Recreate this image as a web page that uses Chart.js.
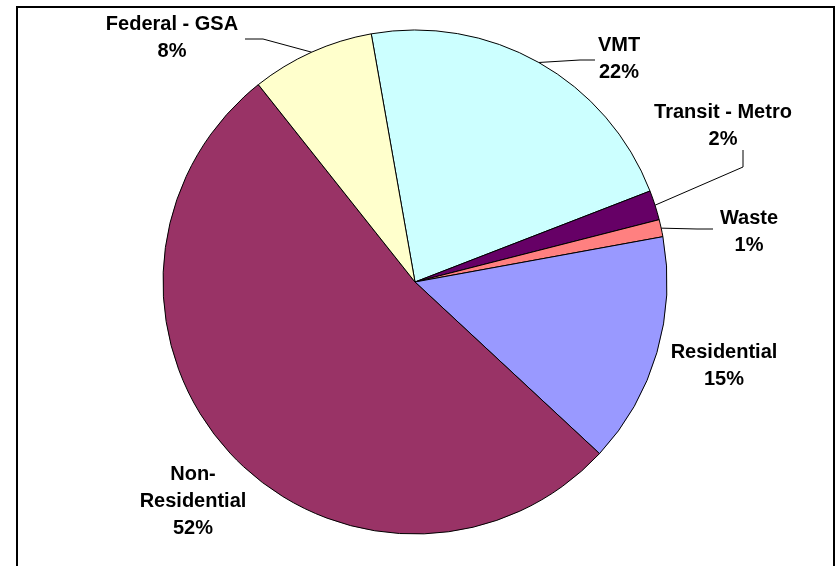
<!DOCTYPE html>
<html><head><meta charset="utf-8">
<script src="https://cdn.jsdelivr.net/npm/chart.js@4/dist/chart.umd.min.js"></script>
<style>html,body{margin:0;padding:0;background:#fff}#wrap{width:838px;height:566px}</style>
</head><body><div id="wrap"><canvas id="c" width="838" height="566"></canvas></div>
<script>
// ---- data ----
const categories = ['VMT', 'Transit - Metro', 'Waste', 'Residential', 'Non-Residential', 'Federal - GSA'];
const values = [21.9, 1.9, 1.1, 14.8, 52.4, 7.9];
const labelLines = [['VMT'], ['Transit - Metro'], ['Waste'], ['Residential'], ['Non-', 'Residential'], ['Federal - GSA']];

// ---- styles / layout ----
const sliceColors = ['#CCFFFF', '#660066', '#FF8080', '#9999FF', '#993366', '#FFFFCC'];
const labelLayout = [
  { x: 619, y: 45, leader: [[595, 60], [580, 60]] },
  { x: 723, y: 112, leader: [[743, 150], [743, 167]] },
  { x: 749, y: 218, leader: [[713, 229], [697, 229]] },
  { x: 724, y: 352, leader: null },
  { x: 193, y: 474, leader: null },
  { x: 172, y: 24, leader: [[245, 39], [263, 39]] }
];
const LINE_H = 27;
const FONT = 'bold 20px "Liberation Sans", Arial, sans-serif';

const labelPlugin = {
  id: 'excelLabels',
  afterDatasetsDraw(chart) {
    const ctx = chart.ctx;
    const meta = chart.getDatasetMeta(0);
    const data = chart.data.datasets[0].data;
    const total = data.reduce((a, b) => a + b, 0);
    ctx.save();
    // leader lines
    ctx.strokeStyle = '#000';
    ctx.lineWidth = 1;
    meta.data.forEach((el, i) => {
      const lay = labelLayout[i];
      if (!lay.leader) return;
      const p = el.getProps(['x', 'y', 'startAngle', 'endAngle', 'outerRadius'], true);
      const mid = (p.startAngle + p.endAngle) / 2;
      const ex = p.x + Math.cos(mid) * p.outerRadius;
      const ey = p.y + Math.sin(mid) * p.outerRadius;
      ctx.beginPath();
      ctx.moveTo(lay.leader[0][0], lay.leader[0][1]);
      ctx.lineTo(lay.leader[1][0], lay.leader[1][1]);
      ctx.lineTo(ex, ey);
      ctx.stroke();
    });
    // texts
    ctx.fillStyle = '#000';
    ctx.font = FONT;
    ctx.textAlign = 'center';
    ctx.textBaseline = 'middle';
    labelLines.forEach((lines, i) => {
      const lay = labelLayout[i];
      const all = lines.concat([Math.round(data[i] / total * 100) + '%']);
      all.forEach((t, k) => ctx.fillText(t, lay.x, lay.y + k * LINE_H));
    });
    // outer frame
    ctx.lineWidth = 2;
    ctx.strokeRect(17, 7, 817, 600);
    ctx.restore();
  }
};

new Chart(document.getElementById('c'), {
  type: 'pie',
  data: {
    labels: categories,
    datasets: [{
      data: values,
      backgroundColor: sliceColors,
      borderColor: '#000',
      borderWidth: 1,
      radius: 252
    }]
  },
  options: {
    responsive: false,
    devicePixelRatio: 1,
    animation: false,
    rotation: -10,
    layout: { padding: { left: 0, right: 8, top: 0, bottom: 2 } },
    plugins: { legend: { display: false }, tooltip: { enabled: false } }
  },
  plugins: [labelPlugin]
});
</script>
</body></html>
